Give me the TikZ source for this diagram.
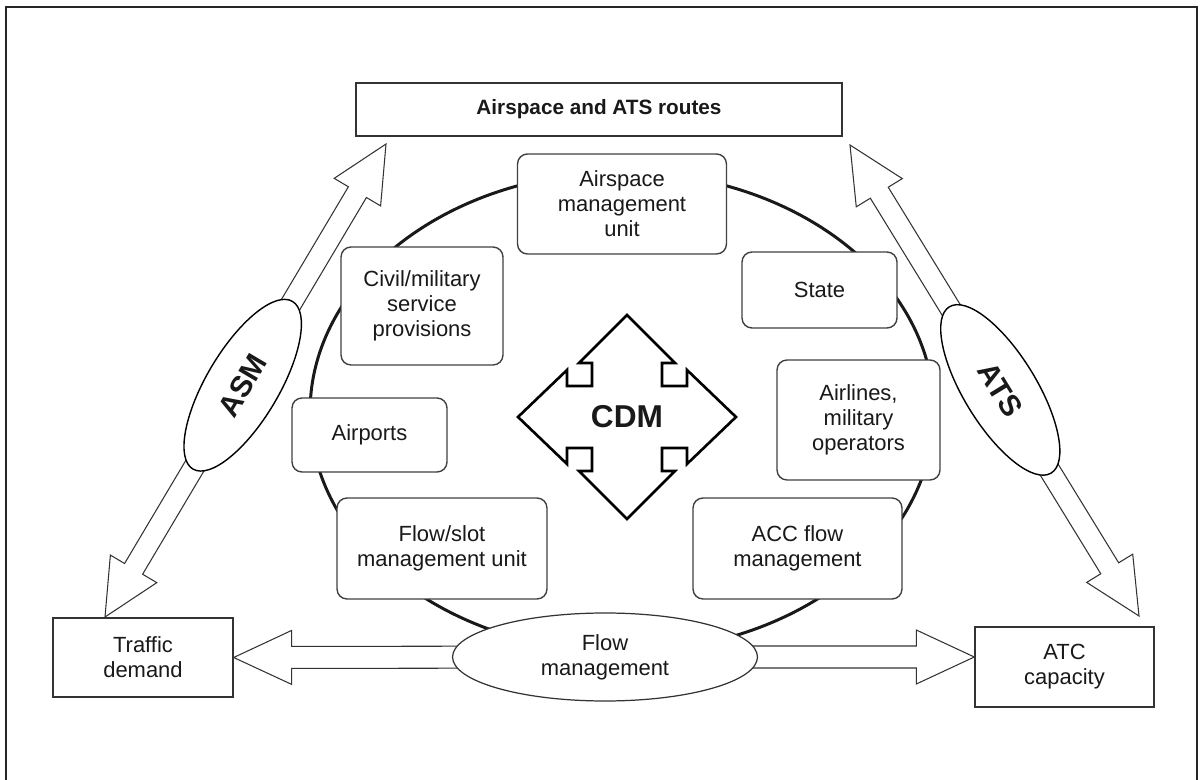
\documentclass[tikz,border=0pt]{standalone}
\usepackage{fontspec}
\setmainfont{Liberation Sans}
\usetikzlibrary{calc,shapes.geometric}

\newcommand{\blockarrowtwo}[2]{%
  \draw[blockline] (#1)
    -- ($(#1)!1.12cm!(#2)!0.54cm!90:(#2)$) -- ($(#1)!1.12cm!(#2)!0.21cm!90:(#2)$)
    -- ($(#2)!1.12cm!(#1)!0.21cm!-90:(#1)$) -- ($(#2)!1.12cm!(#1)!0.54cm!-90:(#1)$)
    -- (#2)
    -- ($(#2)!1.12cm!(#1)!0.54cm!90:(#1)$) -- ($(#2)!1.12cm!(#1)!0.21cm!90:(#1)$)
    -- ($(#1)!1.12cm!(#2)!0.21cm!-90:(#2)$) -- ($(#1)!1.12cm!(#2)!0.54cm!-90:(#2)$)
    -- cycle;}
\newcommand{\blockarrowone}[2]{%
  \draw[blockline] ($(#1)!0.22cm!90:(#2)$)
    -- ($(#2)!1.16cm!(#1)!0.22cm!-90:(#1)$) -- ($(#2)!1.16cm!(#1)!0.54cm!-90:(#1)$)
    -- (#2)
    -- ($(#2)!1.16cm!(#1)!0.54cm!90:(#1)$) -- ($(#2)!1.16cm!(#1)!0.22cm!90:(#1)$)
    -- ($(#1)!0.22cm!-90:(#2)$) -- cycle;}

\begin{document}
\begin{tikzpicture}[x=0.02cm,y=-0.02cm,
    every node/.style={font=\fontsize{12.5}{14.2}\selectfont, text=black!90, align=center},
    roundbox/.style={draw=black!75, line width=0.8pt, rounded corners=0.2cm, fill=white, inner sep=0pt},
    plainbox/.style={draw=black!80, line width=0.8pt, fill=white, inner sep=0pt},
    blockline/.style={draw=black!80, line width=0.6pt, fill=white, line join=miter},
    tagellipse/.style={ellipse, draw=black, line width=0.8pt, fill=white, inner sep=0pt,
        minimum width=3.9cm, minimum height=1.45cm, font=\fontsize{17}{20}\selectfont\bfseries}]
    \useasboundingbox (0,0) rectangle (1201,780);
    \draw[line width=1pt, black!85] (6,800) rectangle (1197,7);

    % the CDM ring
    \draw[line width=1.7pt, black!90] (622,412) ellipse [x radius=6.24cm, y radius=4.8cm];

    \node[plainbox, minimum width=9.72cm, minimum height=1.06cm,
        font=\fontsize{11.8}{14}\selectfont\bfseries] (routes) at (599,109.5) {Airspace and ATS routes};
    \node[plainbox, minimum width=3.6cm, minimum height=1.58cm] (traffic) at (143,657.5) {Traffic\\demand};
    \node[plainbox, minimum width=3.58cm, minimum height=1.6cm] (atc) at (1064.5,667) {ATC\\capacity};

    \node[roundbox, minimum width=4.18cm, minimum height=2cm] (amu) at (622,204) {Airspace\\management\\unit};
    \node[roundbox, minimum width=3.24cm, minimum height=2.36cm] (civil) at (422,306) {Civil/military\\service\\provisions};
    \node[roundbox, minimum width=3.1cm, minimum height=1.52cm] (state) at (819.5,290) {State};
    \node[roundbox, minimum width=3.1cm, minimum height=1.48cm] (airports) at (369.5,435) {Airports};
    \node[roundbox, minimum width=3.26cm, minimum height=2.4cm] (airlines) at (858.5,420) {Airlines,\\military\\operators};
    \node[roundbox, minimum width=4.2cm, minimum height=2.02cm] (flowslot) at (442,548.5) {Flow/slot\\management unit};
    \node[roundbox, minimum width=4.18cm, minimum height=2.02cm] (acc) at (797.5,548.5) {ACC flow\\management};

    % CDM
    \node[font=\fontsize{18}{20}\selectfont\bfseries] (cdm) at (627,417) {CDM};
    \begin{scope}[shift={(cdm.center)}]
        \draw[line width=1.5pt, line join=miter] (0,-102) -- (48,-54) -- (35,-54) -- (35,-31) -- (60,-31)
            -- (60,-47) -- (109,0) -- (60,47) -- (60,31) -- (35,31) -- (35,54) -- (48,54) -- (0,102)
            -- (-48,54) -- (-35,54) -- (-35,31) -- (-60,31) -- (-60,47) -- (-109,0) -- (-60,-47)
            -- (-60,-31) -- (-35,-31) -- (-35,-54) -- (-48,-54) -- cycle;
    \end{scope}

    % block arrows
    \coordinate (asmlo) at (105,617);
    \coordinate (asmhi) at (386,144);
    \coordinate (atshi) at (850,145);
    \coordinate (atslo) at (1139,616);
    \coordinate (flowc) at (605,657);
    \coordinate (atcin) at (flowc -| atc.west);
    \blockarrowtwo{asmlo}{asmhi}
    \blockarrowtwo{atshi}{atslo}
    \blockarrowone{flowc}{traffic.east}
    \blockarrowone{flowc}{atcin}

    \node[tagellipse, rotate=59.3] (asm) at ($(asmlo)!0.49!(asmhi)$) {ASM};
    \node[tagellipse, rotate=-58.5] (ats) at ($(atshi)!0.52!(atslo)$) {ATS};
    \node[ellipse, draw=black!80, line width=0.7pt, fill=white, inner sep=0pt,
        minimum width=6.1cm, minimum height=1.76cm] (flow) at (flowc) {Flow\\management};
\end{tikzpicture}
\end{document}
